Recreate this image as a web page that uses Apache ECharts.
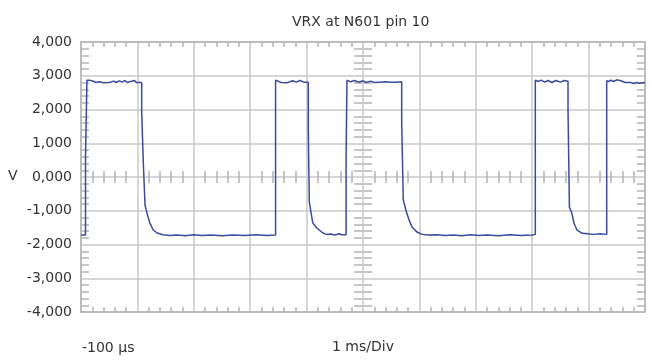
<!DOCTYPE html>
<html>
<head>
<meta charset="utf-8">
<script src="https://cdn.jsdelivr.net/npm/echarts@6/dist/echarts.min.js"></script>
<style>html,body{margin:0;padding:0;background:#fff;}#c{width:651px;height:361px;}</style>
</head>
<body>
<div id="c"></div>
<script>
const titleText = 'VRX at N601 pin 10';
const yAxisName = 'V';
const startLabel = '-100 µs';
const scaleLabel = '1 ms/Div';
const X_START = -0.1; // ms at left edge of the screen
const X_DIVS = 10;    // 1 ms per division
const yTickValues = [-4, -3, -2, -1, 0, 1, 2, 3, 4];
const yTickLabels = ['-4,000', '-3,000', '-2,000', '-1,000', '0,000', '1,000', '2,000', '3,000', '4,000'];

const timeMs = [
  -0.10, -0.02, -0.02, 0.005, 0.005, 0.05, 0.06, 0.12, 0.16, 0.22,
  0.30, 0.40, 0.48, 0.52, 0.58, 0.63, 0.68, 0.72, 0.80, 0.85,
  0.88, 0.976, 0.976, 1.005, 1.005, 1.035, 1.035, 1.07, 1.12, 1.18,
  1.25, 1.35, 1.48, 1.60, 1.75, 1.90, 2.05, 2.20, 2.40, 2.60,
  2.80, 3.00, 3.20, 3.35, 3.35, 3.45, 3.55, 3.65, 3.72, 3.78,
  3.85, 3.93, 3.93, 3.948, 3.948, 3.98, 4.01, 4.08, 4.19, 4.25,
  4.32, 4.40, 4.48, 4.52, 4.60, 4.60, 4.616, 4.616, 4.68, 4.75,
  4.82, 4.90, 4.96, 5.03, 5.10, 5.20, 5.30, 5.40, 5.50, 5.586,
  5.586, 5.614, 5.614, 5.675, 5.716, 5.769, 5.857, 5.946, 6.05, 6.20,
  6.35, 6.50, 6.65, 6.80, 6.95, 7.10, 7.30, 7.50, 7.70, 7.90,
  7.955, 7.955, 8.00, 8.06, 8.12, 8.18, 8.25, 8.32, 8.40, 8.47,
  8.535, 8.535, 8.56, 8.56, 8.60, 8.641, 8.694, 8.783, 8.925, 9.00,
  9.10, 9.221, 9.221, 9.26, 9.30, 9.34, 9.40, 9.47, 9.55, 9.65,
  9.70, 9.75, 9.80, 9.90
];
const volts = [
  -1.72, -1.72, 0.60, 0.60, 2.87, 2.87, 2.82, 2.84, 2.80, 2.82,
  2.79, 2.80, 2.84, 2.80, 2.85, 2.81, 2.86, 2.80, 2.84, 2.86,
  2.80, 2.80, 1.93, 1.93, 0.42, 0.42, -0.83, -1.07, -1.36, -1.57,
  -1.66, -1.71, -1.73, -1.72, -1.74, -1.71, -1.73, -1.72, -1.74, -1.72,
  -1.73, -1.71, -1.73, -1.72, 2.87, 2.80, 2.79, 2.85, 2.81, 2.86,
  2.81, 2.81, 1.39, 1.39, -0.74, -1.07, -1.36, -1.51, -1.66, -1.70,
  -1.69, -1.72, -1.68, -1.71, -1.71, 0.59, 0.59, 2.87, 2.82, 2.86,
  2.81, 2.85, 2.80, 2.84, 2.80, 2.81, 2.82, 2.81, 2.81, 2.82,
  1.63, 1.63, -0.68, -1.07, -1.27, -1.48, -1.63, -1.70, -1.72, -1.71,
  -1.73, -1.72, -1.74, -1.71, -1.73, -1.72, -1.74, -1.71, -1.73, -1.72,
  -1.70, 2.87, 2.83, 2.87, 2.81, 2.86, 2.80, 2.86, 2.81, 2.86,
  2.84, 1.98, 1.98, -0.90, -1.05, -1.37, -1.57, -1.67, -1.69, -1.70,
  -1.68, -1.70, 2.85, 2.83, 2.87, 2.83, 2.88, 2.85, 2.80, 2.80,
  2.77, 2.80, 2.78, 2.80
];

const seriesData = timeMs.map((t, i) => [t - X_START, volts[i]]);

const splitColor = '#c8c8c8';
const tickColor = '#b4b4b4';
const textColor = '#333';
const L = 81, T = 42, W = 564, H = 270;
const MID_Y = T + H / 2, MID_X = L + W / 2;

function ls(c) { return { color: c || tickColor, width: 1.5 }; }
function hiddenAxis(gridIndex) {
  return { type: 'value', gridIndex: gridIndex, show: false, min: 0, max: 1 };
}
// an axis whose minor split lines, drawn across a narrow band grid, form the tick marks
function bandAxis(gridIndex, min, max) {
  return {
    type: 'value', gridIndex: gridIndex, min: min, max: max, interval: 1,
    axisLine: { show: false }, axisTick: { show: false }, axisLabel: { show: false },
    minorTick: { show: false, splitNumber: 5 },
    splitLine: { show: false },
    minorSplitLine: { show: true, lineStyle: ls() }
  };
}
function textStyle() {
  return { color: textColor, fontFamily: 'DejaVu Sans', fontSize: 14, fontWeight: 'normal' };
}

const chart = echarts.init(document.getElementById('c'));
chart.setOption({
  animation: false,
  backgroundColor: '#fff',
  title: [
    { text: titleText, left: 292, top: 15, padding: 0, textStyle: textStyle() },
    { text: yAxisName, left: 8, top: 169, padding: 0, textStyle: textStyle() },
    { text: startLabel, left: 82, top: 341, padding: 0, textStyle: textStyle() },
    { text: scaleLabel, left: 332, top: 340, padding: 0, textStyle: textStyle() }
  ],
  grid: [
    { left: L, top: T, width: W, height: H },                 // 0 main
    { left: L, top: MID_Y - 6, width: W, height: 12 },        // 1 zero-line tick band
    { left: MID_X - 9, top: T, width: 18, height: H },        // 2 centre-line tick band
    { left: L, top: T, width: W, height: 5 },                 // 3 top-edge tick band
    { left: L, top: T + H - 5, width: W, height: 5 },         // 4 bottom-edge tick band
    { left: L, top: T, width: 8, height: H },                 // 5 left-edge tick band
    { left: L + W - 8, top: T, width: 8, height: H }          // 6 right-edge tick band
  ],
  xAxis: [
    { type: 'value', gridIndex: 0, position: 'bottom', min: 0, max: X_DIVS, interval: 1,
      axisLine: { show: true, onZero: false, lineStyle: ls() },
      axisTick: { show: false }, axisLabel: { show: false },
      splitLine: { show: true, lineStyle: ls(splitColor) } },
    bandAxis(1, 0, X_DIVS),
    hiddenAxis(2),
    bandAxis(3, 0, X_DIVS),
    bandAxis(4, 0, X_DIVS),
    hiddenAxis(5),
    hiddenAxis(6),
    { type: 'value', gridIndex: 0, position: 'top', min: 0, max: X_DIVS, interval: 1,
      axisLine: { show: true, onZero: false, lineStyle: ls() },
      axisTick: { show: false }, axisLabel: { show: false }, splitLine: { show: false } }
  ],
  yAxis: [
    { type: 'value', gridIndex: 0, position: 'left', min: -4, max: 4, interval: 1,
      axisLine: { show: true, onZero: false, lineStyle: ls() },
      axisTick: { show: false },
      splitLine: { show: true, lineStyle: ls(splitColor) },
      axisLabel: { show: true, margin: 9, color: textColor, fontFamily: 'DejaVu Sans', fontSize: 14,
        formatter: function (v) { const i = yTickValues.indexOf(Math.round(v)); return i >= 0 ? yTickLabels[i] : ''; } } },
    hiddenAxis(1),
    bandAxis(2, -4, 4),
    hiddenAxis(3),
    hiddenAxis(4),
    bandAxis(5, -4, 4),
    bandAxis(6, -4, 4),
    { type: 'value', gridIndex: 0, position: 'right', min: -4, max: 4, interval: 1,
      axisLine: { show: true, onZero: false, lineStyle: ls() },
      axisTick: { show: false }, axisLabel: { show: false }, splitLine: { show: false } }
  ],
  series: [{
    type: 'line',
    xAxisIndex: 0,
    yAxisIndex: 0,
    data: seriesData,
    showSymbol: false,
    lineStyle: { color: '#3a4a9f', width: 1.5 },
    z: 10
  }]
});
</script>
</body>
</html>
